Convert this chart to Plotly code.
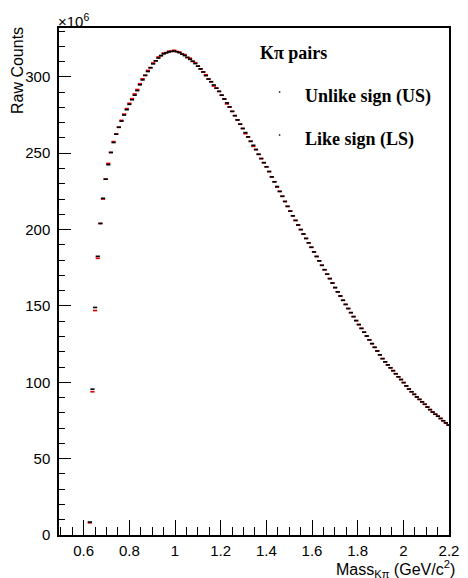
import plotly.graph_objects as go

# ---------------- data (counts in units of 1e6) ----------------
first_bin_centre = 0.627
bin_width = 0.01155

us_counts = [
    8.5, 95.5, 149.0, 182.5, 204.0, 220.5, 233.0, 242.5, 250.5, 257.0,
    262.5, 267.0, 271.0, 275.0, 278.5, 282.0, 285.0, 288.0, 291.0, 294.8,
    298.0, 301.0, 303.5, 306.0, 308.5, 310.5, 312.3, 313.9, 315.0, 315.8,
    316.3, 316.7, 316.9, 316.5, 315.8, 314.9, 313.9, 312.7, 311.5, 310.2,
    308.7, 307.0, 305.2, 303.2, 300.8, 298.6, 296.8, 294.7, 292.6, 290.5,
    288.0, 285.5, 283.0, 280.3, 277.4, 274.6, 271.8, 269.0, 266.2, 263.5,
    260.7, 257.8, 255.2, 252.4, 249.3, 246.5, 243.8, 241.1, 238.0, 234.5,
    231.3, 228.2, 225.0, 221.8, 218.4, 215.2, 212.1, 209.0, 206.0, 203.0,
    200.0, 197.1, 194.2, 191.3, 188.4, 185.4, 182.4, 179.5, 176.6, 173.7,
    170.8, 167.9, 165.0, 162.0, 159.2, 156.5, 153.7, 151.0, 148.3, 145.6,
    143.0, 140.4, 137.8, 135.3, 132.8, 130.3, 127.8, 125.3, 122.9, 120.5,
    118.0, 115.5, 113.4, 111.4, 109.5, 107.6, 105.6, 103.6, 101.8, 99.8,
    97.6, 95.6, 93.8, 92.1, 90.4, 88.8, 87.2, 85.6, 83.8, 82.1,
    80.5, 79.1, 77.8, 76.3, 74.8, 73.4, 72.0,
]

ls_counts = [
    8.0, 93.8, 147.0, 181.2, 204.0, 220.0, 233.0, 243.3, 250.5, 257.6,
    262.5, 267.0, 271.5, 275.6, 279.2, 282.7, 285.7, 288.8, 291.7, 295.5,
    298.7, 301.0, 304.2, 306.0, 309.1, 310.5, 313.0, 313.9, 315.6, 315.8,
    316.8, 316.7, 317.4, 316.5, 316.3, 314.9, 314.5, 312.7, 312.2, 310.2,
    309.3, 307.0, 305.2, 303.2, 301.4, 298.6, 296.8, 294.0, 292.6, 290.5,
    288.0, 285.5, 282.3, 280.3, 277.4, 274.6, 271.8, 269.0, 266.2, 262.8,
    260.7, 257.8, 254.5, 252.4, 249.3, 246.5, 243.8, 241.1, 238.0, 234.5,
    231.3, 227.8, 225.0, 221.8, 218.4, 215.2, 212.1, 209.0, 206.0, 203.0,
    200.0, 197.1, 194.2, 191.3, 188.4, 185.4, 182.4, 179.5, 176.6, 173.7,
    170.8, 167.9, 165.0, 162.0, 159.2, 156.5, 153.7, 151.0, 148.3, 145.6,
    143.0, 140.4, 137.8, 135.3, 132.8, 130.3, 127.8, 125.3, 122.9, 120.5,
    118.0, 115.5, 113.4, 111.4, 109.5, 107.6, 105.6, 103.6, 101.8, 99.8,
    97.6, 95.6, 93.8, 92.1, 90.4, 88.8, 87.2, 85.6, 83.8, 82.1,
    80.5, 79.1, 77.8, 76.3, 74.8, 73.4, 72.0,
]

mass = [round(first_bin_centre + bin_width * i, 5) for i in range(len(us_counts))]

x_tick_vals = [0.6, 0.8, 1.0, 1.2, 1.4, 1.6, 1.8, 2.0, 2.2]
x_tick_text = ["0.6", "0.8", "1", "1.2", "1.4", "1.6", "1.8", "2", "2.2"]
y_tick_vals = [0, 50, 100, 150, 200, 250, 300]
y_tick_text = ["0", "50", "100", "150", "200", "250", "300"]

# ---------------- figure ----------------
W, H = 468, 578
L, R, T, B = 59, 9, 28, 43
pw, ph = W - L - R, H - T - B


def px(xp):
    return (xp - L) / pw


def py(yp):
    return (H - B - yp) / ph


fig = go.Figure()
fig.add_trace(go.Scatter(
    x=mass, y=ls_counts, mode="markers", name="Like sign (LS)",
    marker=dict(symbol="line-ew", size=3, color="#e00000",
                line=dict(color="#e00000", width=1.7)),
    showlegend=False,
))
fig.add_trace(go.Scatter(
    x=mass, y=us_counts, mode="markers", name="Unlike sign (US)",
    marker=dict(symbol="line-ew", size=3, color="black",
                line=dict(color="black", width=1.6)),
    showlegend=False,
))

axis_font = dict(family="Liberation Sans, Arial, sans-serif", size=15, color="black")

fig.update_layout(
    width=W, height=H,
    margin=dict(l=L, r=R, t=T, b=B, pad=0),
    paper_bgcolor="white", plot_bgcolor="white",
    font=axis_font,
    xaxis=dict(
        range=[0.492, 2.2], tickmode="array", tickvals=x_tick_vals, ticktext=x_tick_text,
        ticks="inside", ticklen=15, tickwidth=1, tickcolor="black",
        minor=dict(tickmode="linear", tick0=0.5, dtick=0.05, ticks="inside",
                   ticklen=8, tickwidth=1, tickcolor="black"),
        showline=True, linecolor="black", linewidth=1.5, mirror=True,
        showgrid=False, zeroline=False, tickfont=axis_font, ticklabelstandoff=1,
    ),
    yaxis=dict(
        range=[0, 332], tickmode="array", tickvals=y_tick_vals, ticktext=y_tick_text,
        ticks="inside", ticklen=12, tickwidth=1, tickcolor="black",
        minor=dict(tickmode="linear", tick0=0, dtick=10, ticks="inside",
                   ticklen=6, tickwidth=1, tickcolor="black"),
        showline=True, linecolor="black", linewidth=1.5, mirror=True,
        showgrid=False, zeroline=False, tickfont=axis_font, ticklabelstandoff=4,
    ),
)

serif_bold = dict(family="Liberation Serif, Times New Roman, serif", size=18, color="black")

annotations = [
    dict(text="×10<sup>6</sup>", x=px(56), y=py(21), xanchor="left", yanchor="middle",
         font=axis_font),
    dict(text="Raw Counts", x=16, y=71, xref="x domain", yref="paper", ax=0, ay=0,
         xanchor="center", yanchor="middle",
         textangle=-90, font=dict(family="Liberation Sans, Arial, sans-serif", size=16, color="black")),
    dict(text="Mass<sub>Kπ</sub> (GeV/c<sup>2</sup>)", x=px(341), y=py(569),
         xanchor="left", yanchor="middle",
         font=dict(family="Liberation Sans, Arial, sans-serif", size=16, color="black")),
    dict(text="<b>Kπ pairs</b>", x=px(263), y=py(53), xanchor="left", yanchor="middle",
         font=serif_bold),
    dict(text="<b>Unlike sign (US)</b>", x=px(309), y=py(96), xanchor="left", yanchor="middle",
         font=serif_bold),
    dict(text="<b>Like sign (LS)</b>", x=px(309), y=py(139), xanchor="left", yanchor="middle",
         font=serif_bold),
]
for a in annotations:
    a.update(xref="paper", yref="paper", showarrow=False)
# vertical title: place by pixel centre (x=16, y=71 from top-left)
annotations[1].update(x=px(16), y=py(71), yshift=0)
fig.update_layout(annotations=annotations)

# tiny legend markers
for ycen in (92, 135):
    fig.add_shape(type="rect", xref="paper", yref="paper",
                  x0=px(284.5), x1=px(286), y0=py(ycen + 0.7), y1=py(ycen - 0.7),
                  line=dict(width=0), fillcolor="black")

fig.write_html("out.html")
